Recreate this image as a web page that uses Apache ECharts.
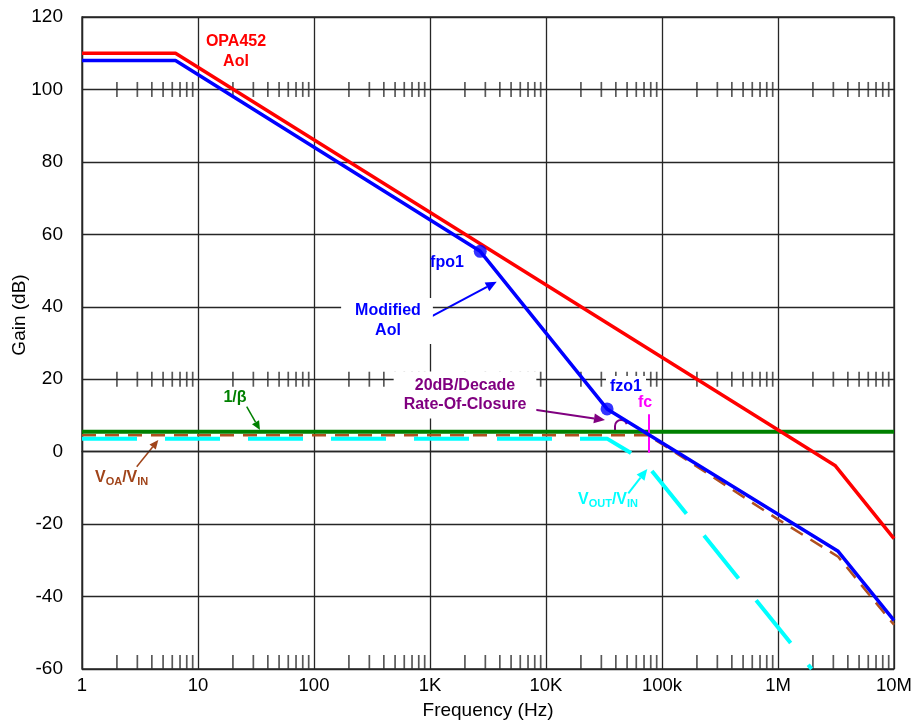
<!DOCTYPE html>
<html>
<head>
<meta charset="utf-8">
<script src="https://cdn.jsdelivr.net/npm/echarts@6/dist/echarts.min.js"></script>
<style>
  html, body { margin: 0; padding: 0; background: #fff; }
  #chart { width: 916px; height: 725px; }
</style>
</head>
<body>
<div id="chart"></div>
<script>
// Frequency decade labels (1 Hz .. 10 MHz)
const freqLabels = ['1', '10', '100', '1K', '10K', '100k', '1M', '10M'];
const decadeStarts = [1, 10, 100, 1e3, 1e4, 1e5, 1e6];
const minorSteps = [2, 3, 4, 5, 6, 7, 8, 9];
// Gain rows that carry the log minor tick marks
const tickRowsCross = [100, 20];
const tickRowBottom = -60;

// Open-loop gain of the OPA452 (Hz, dB)
const opa452Aol = [[1, 110], [6.4, 110], [3.1e6, -3.8], [1e7, -24]];
// Modified Aol with pole fpo1 and zero fzo1
const modifiedAol = [[1, 108], [6.4, 108], [2710, 55.3], [33600, 11.8], [3.3e6, -27.5], [1e7, -46.6]];
const poleZeroPoints = [[2710, 55.3], [33600, 11.8]];
// Feedback factor 1/beta
const invBeta = [[1, 5.5], [1e7, 5.5]];
// Closed-loop VOA/VIN
const voaVin = [[1, 4.5], [7.6e4, 4.5], [1.2e5, 0.5], [1e6, -18.7], [3.3e6, -29], [1e7, -47.8]];
// Closed-loop VOUT/VIN
const voutVin = [[1, 3.6], [3.36e4, 3.6], [6.9e4, -2.4], [1.95e6, -60]];
// Crossover frequency fc and its marker span (dB)
const fcFreq = 76700;
const fcSpan = [10.3, -0.3];

const minorTickFreqs = [];
decadeStarts.forEach(d => minorSteps.forEach(m => minorTickFreqs.push(d * m)));

const chart = echarts.init(document.getElementById('chart'), null, { renderer: 'canvas' });

const FONT = '"Liberation Sans", Arial, sans-serif';
const GRID_COLOR = '#262626';
const TICK_COLOR = '#2e2e2e';

function arrow(x1, y1, x2, y2, color, width, head) {
  const ang = Math.atan2(y2 - y1, x2 - x1);
  const hl = head, hw = head * 0.45;
  const bx = x2 - hl * Math.cos(ang), by = y2 - hl * Math.sin(ang);
  const px = -Math.sin(ang) * hw, py = Math.cos(ang) * hw;
  return {
    type: 'group', silent: true, z: 100,
    children: [
      { type: 'line', shape: { x1: x1, y1: y1, x2: bx, y2: by }, style: { stroke: color, lineWidth: width } },
      { type: 'polygon', shape: { points: [[x2, y2], [bx + px, by + py], [bx - px, by - py]] }, style: { fill: color } }
    ]
  };
}

function label(text, x, y, color, opts) {
  return Object.assign({
    type: 'text', x: x, y: y, silent: true, z: 100,
    style: Object.assign({
      text: text, fill: color, font: 'bold 16px ' + FONT,
      align: 'center', verticalAlign: 'middle', lineHeight: 20
    }, (opts && opts.style) || {})
  }, (opts && opts.el) || {});
}

const subRich = (color) => ({
  b: { fill: color, font: 'bold 16px ' + FONT, lineHeight: 20 },
  s: { fill: color, font: 'bold 11px ' + FONT, lineHeight: 20, padding: [8, 0, 0, 0] }
});

const option = {
  animation: false,
  backgroundColor: '#ffffff',
  grid: {
    left: 82, right: 22, top: 17, bottom: 55,
    show: true, borderColor: GRID_COLOR, borderWidth: 1.3, backgroundColor: 'transparent'
  },
  xAxis: {
    type: 'log', logBase: 10, min: 1, max: 1e7,
    name: 'Frequency (Hz)', nameLocation: 'middle', nameGap: 32,
    nameTextStyle: { fontFamily: FONT, fontSize: 19, color: '#000' },
    axisLine: { show: true, lineStyle: { color: GRID_COLOR, width: 1.3 } },
    axisTick: { show: false },
    axisLabel: {
      fontFamily: FONT, fontSize: 18.5, color: '#000', margin: 7,
      formatter: v => freqLabels[Math.round(Math.log10(v))]
    },
    splitLine: { show: true, lineStyle: { color: GRID_COLOR, width: 1.3 } },
    minorTick: { show: false }
  },
  yAxis: {
    type: 'value', min: -60, max: 120, interval: 20,
    axisLine: { show: true, lineStyle: { color: GRID_COLOR, width: 1.3 } },
    axisTick: { show: false },
    axisLabel: { fontFamily: FONT, fontSize: 19, color: '#000', margin: 19 },
    splitLine: { show: true, lineStyle: { color: GRID_COLOR, width: 1.3 } }
  },
  series: [
    {
      name: 'minor ticks', type: 'scatter', silent: true, clip: false, z: 1,
      symbol: 'rect', symbolSize: [1.7, 15],
      itemStyle: { color: TICK_COLOR },
      data: tickRowsCross.flatMap(g => minorTickFreqs.map(f => [f, g]))
    },
    {
      name: 'minor ticks bottom', type: 'scatter', silent: true, clip: false, z: 1,
      symbol: 'rect', symbolSize: [1.7, 14], symbolOffset: [0, -7],
      itemStyle: { color: TICK_COLOR },
      data: minorTickFreqs.map(f => [f, tickRowBottom])
    },
    {
      name: '1/β', type: 'line', data: invBeta, showSymbol: false, symbol: 'none', z: 2,
      lineStyle: { color: '#008000', width: 4 }
    },
    {
      name: 'VOA/VIN', type: 'line', data: voaVin, showSymbol: false, symbol: 'none', z: 3,
      lineStyle: { color: '#B0501F', width: 2.5, type: [14, 9], cap: 'butt' }
    },
    {
      name: 'VOUT/VIN', type: 'line', data: voutVin, showSymbol: false, symbol: 'none', z: 3,
      lineStyle: { color: '#00FFFF', width: 4, type: [55, 28], cap: 'butt' }
    },
    {
      name: 'OPA452 Aol', type: 'line', data: opa452Aol, showSymbol: false, symbol: 'none', z: 4,
      lineStyle: { color: '#FF0000', width: 3.5 }
    },
    {
      name: 'Modified Aol', type: 'line', data: modifiedAol, showSymbol: false, symbol: 'none', z: 5,
      lineStyle: { color: '#0000FF', width: 3.5 },
      markLine: {
        silent: true, symbol: ['none', 'none'], label: { show: false },
        lineStyle: { color: '#FF00FF', width: 2, type: 'solid' },
        data: [[{ coord: [fcFreq, fcSpan[0]] }, { coord: [fcFreq, fcSpan[1]] }]]
      }
    },
    {
      name: 'fpo1 / fzo1', type: 'scatter', data: poleZeroPoints, symbol: 'circle', symbolSize: 13, z: 6,
      itemStyle: { color: '#0000FF' }, silent: true
    }
  ],
  graphic: [
    {
      type: 'text', x: 20, y: 315, rotation: Math.PI / 2, silent: true,
      style: { text: 'Gain (dB)', fill: '#000', font: '19px ' + FONT, align: 'center', verticalAlign: 'middle' }
    },
    label('OPA452\nAol', 236, 52, '#FF0000', { style: { lineHeight: 20 } }),
    label('fpo1', 447, 263, '#0000FF'),
    label('Modified\nAol', 387, 321, '#0000FF', { style: { backgroundColor: '#fff', padding: [4, 12, 2, 14] } }),
    label('20dB/Decade\nRate-Of-Closure', 465, 395, '#800080', { style: { backgroundColor: '#fff', padding: [5, 10, 4, 10], lineHeight: 19 } }),
    label('fzo1', 626, 387, '#0000FF', { style: { backgroundColor: '#fff', padding: [2, 4, 0, 4] } }),
    label('fc', 645, 403, '#FF00FF'),
    label('1/β', 235, 398, '#008000'),
    {
      type: 'text', x: 95, y: 478, silent: true, z: 100,
      style: { text: '{b|V}{s|OA}{b|/V}{s|IN}', rich: subRich('#A0441A'), verticalAlign: 'middle' }
    },
    {
      type: 'text', x: 578, y: 500, silent: true, z: 100,
      style: { text: '{b|V}{s|OUT}{b|/V}{s|IN}', rich: subRich('#00FFFF'), verticalAlign: 'middle' }
    },
    arrow(246.7, 406.7, 260, 430, '#008000', 1.5, 9),
    arrow(136.7, 466.7, 158.3, 440, '#A0441A', 1.5, 9),
    arrow(421.7, 321.7, 496.7, 281.7, '#0000FF', 2, 11),
    arrow(531.7, 409.3, 605, 420, '#800080', 2, 11),
    arrow(628.3, 493.3, 647.3, 469, '#00FFFF', 2, 11),
    {
      type: 'group', silent: true, z: 100,
      children: [
        { type: 'arc', shape: { cx: 621, cy: 426, r: 6, startAngle: Math.PI, endAngle: Math.PI * 1.9, clockwise: true },
          style: { stroke: '#800080', lineWidth: 2, fill: null } },
        { type: 'line', shape: { x1: 615, y1: 426, x2: 615, y2: 432 }, style: { stroke: '#800080', lineWidth: 2 } }
      ]
    }
  ]
};

chart.setOption(option);
</script>
</body>
</html>
